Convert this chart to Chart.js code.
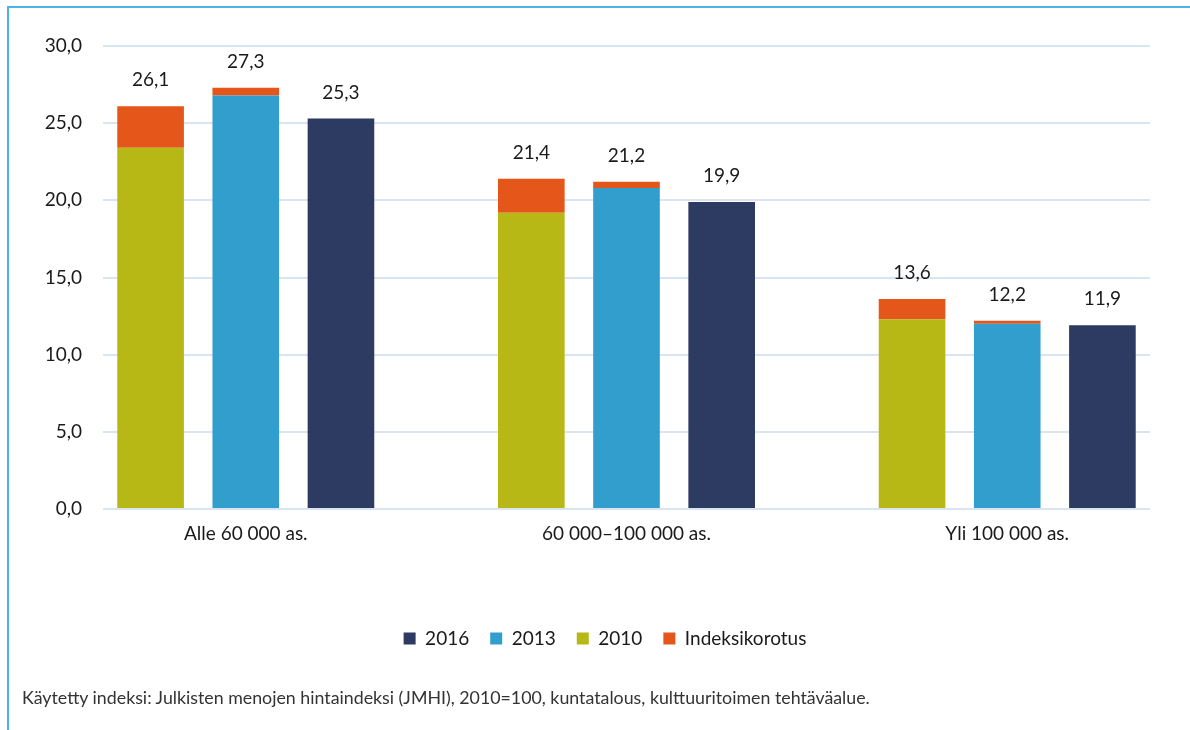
<!DOCTYPE html>
<html>
<head>
<meta charset="utf-8">
<script src="https://cdn.jsdelivr.net/npm/chart.js@4/dist/chart.umd.min.js"></script>
<style>
  body { margin: 0; background: #fff; }
  #wrap { position: relative; width: 1190px; height: 730px; overflow: hidden; }
  #frame { position: absolute; left: 7px; top: 6px; right: -4px; bottom: -4px;
           border-left: 2px solid #4cb4e7; border-top: 2px solid #4cb4e7; }
  #note { position: absolute; left: 22px; top: 686px; font-family: Lato, sans-serif;
          font-size: 17.8px; color: #333; white-space: nowrap; }
  canvas { position: absolute; left: 0; top: 0; }
</style>
</head>
<body>
<div id="wrap">
  <div id="frame"></div>
  <canvas id="chart" width="1190" height="730"></canvas>
  <div id="note">Käytetty indeksi: Julkisten menojen hintaindeksi (JMHI), 2010=100, kuntatalous, kulttuuritoimen tehtäväalue.</div>
</div>
<script>
// categories and values
const categories = ['Alle 60 000 as.', '60 000–100 000 as.', 'Yli 100 000 as.'];
const values2010 = [23.4, 19.2, 12.3];
const values2013 = [26.8, 20.8, 12.0];
const values2016 = [25.3, 19.9, 11.9];
const index2010 = [2.7, 2.2, 1.3];   // indeksikorotus on top of 2010
const index2013 = [0.5, 0.4, 0.2];   // indeksikorotus on top of 2013
const yTicks = [0, 5, 10, 15, 20, 25, 30];

// each group takes 4 slots: 2010, 2013, 2016 and an empty gap slot
const slotLabels = [];
const d2010 = [], d2013 = [], d2016 = [], dIndex = [];
categories.forEach((cat, i) => {
  if (i > 0) {
    slotLabels.push('');
    d2010.push(null); d2013.push(null); d2016.push(null); dIndex.push(null);
  }
  slotLabels.push('', cat, '');
  d2010.push(values2010[i], null, null);
  d2013.push(null, values2013[i], null);
  d2016.push(null, null, values2016[i]);
  dIndex.push(index2010[i], index2013[i], null);
});

const fmt = v => v.toFixed(1).replace('.', ',');

// totals above each bar
const totalLabels = {
  id: 'totalLabels',
  afterDatasetsDraw(chart) {
    const ctx = chart.ctx;
    const x = chart.scales.x, y = chart.scales.y;
    ctx.save();
    ctx.font = '19px Lato, sans-serif';
    ctx.fillStyle = '#1a1a1a';
    ctx.textAlign = 'center';
    ctx.textBaseline = 'middle';
    slotLabels.forEach((_, i) => {
      let total = 0, has = false;
      chart.data.datasets.forEach(ds => {
        if (ds.data[i] != null) { total += ds.data[i]; has = true; }
      });
      if (!has) return;
      ctx.fillText(fmt(total), x.getPixelForValue(i), y.getPixelForValue(total) - 26);
    });
    ctx.restore();
  }
};

// legend in the original sits a bit right of the canvas centre
const shiftLegend = {
  id: 'shiftLegend',
  afterLayout(chart) {
    chart.legend.left += 30;
    chart.legend.right += 30;
  }
};

new Chart(document.getElementById('chart'), {
  type: 'bar',
  data: {
    labels: slotLabels,
    datasets: [
      { label: '2016', data: d2016, backgroundColor: '#2d3a61' },
      { label: '2013', data: d2013, backgroundColor: '#329ecd' },
      { label: '2010', data: d2010, backgroundColor: '#b7b716' },
      { label: 'Indeksikorotus', data: dIndex, backgroundColor: '#e4561a' }
    ]
  },
  options: {
    responsive: false,
    animation: false,
    barPercentage: 0.7,
    categoryPercentage: 1,
    layout: { padding: { top: 46, right: 40, bottom: 72, left: 0 } },
    plugins: {
      tooltip: { enabled: false },
      legend: {
        position: 'bottom',
        labels: {
          boxWidth: 12, boxHeight: 12, padding: 21,
          color: '#1a1a1a',
          font: { family: 'Lato, sans-serif', size: 19 }
        }
      }
    },
    scales: {
      x: {
        stacked: true,
        grid: { display: false, drawTicks: false },
        border: { display: false },
        ticks: {
          autoSkip: false, maxRotation: 0, padding: 13,
          color: '#1a1a1a',
          font: { family: 'Lato, sans-serif', size: 19 }
        },
        afterFit(s) { s.height = 99; }
      },
      y: {
        stacked: true,
        min: 0, max: 30,
        afterBuildTicks(s) { s.ticks = yTicks.map(v => ({ value: v })); },
        grid: { color: '#d9e5f3', lineWidth: 2, drawTicks: false },
        border: { display: false },
        ticks: {
          padding: 21,
          color: '#1a1a1a',
          font: { family: 'Lato, sans-serif', size: 19 },
          callback: v => fmt(v)
        },
        afterFit(s) { s.width = 103; }
      }
    }
  },
  plugins: [totalLabels, shiftLegend]
});
</script>
</body>
</html>
